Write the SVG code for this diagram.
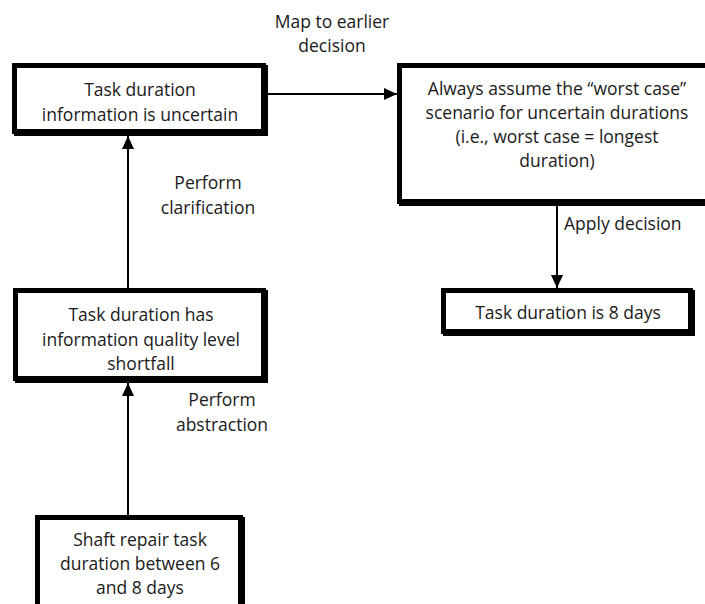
<svg xmlns="http://www.w3.org/2000/svg" width="705" height="604" viewBox="0 0 705 604">
  <style>
    .shadow { fill: #000; }
    .box { fill: #fff; stroke: #000; stroke-width: 5; }
    .txt { font-family: "Open Sans", "Liberation Sans", sans-serif; font-size: 17.5px; fill: #1a1a1a; text-anchor: middle; }
    .lbl { font-family: "Open Sans", "Liberation Sans", sans-serif; font-size: 17.5px; fill: #1a1a1a; }
    .edge { stroke: #000; stroke-width: 2; fill: none; marker-end: url(#arrow); }
  </style>
  <defs>
    <marker id="arrow" markerUnits="userSpaceOnUse" markerWidth="14" markerHeight="14" viewBox="0 0 14 14" refX="13" refY="7" orient="auto">
      <path d="M0,1 L13,7 L0,13 Z" fill="#000"/>
    </marker>
  </defs>
  <rect width="705" height="604" fill="#fff"/>

  <g id="connectors">
    <line class="edge" x1="268" y1="94" x2="397" y2="94"/>
    <line class="edge" x1="128" y1="288" x2="128" y2="136"/>
    <line class="edge" x1="128" y1="515" x2="128" y2="383"/>
    <line class="edge" x1="557" y1="206" x2="557" y2="288"/>
    <text class="lbl" x="332" y="28" text-anchor="middle">Map to earlier</text>
    <text class="lbl" x="332" y="52" text-anchor="middle">decision</text>
    <text class="lbl" x="208" y="189" text-anchor="middle">Perform</text>
    <text class="lbl" x="208" y="214" text-anchor="middle">clarification</text>
    <text class="lbl" x="222" y="406" text-anchor="middle">Perform</text>
    <text class="lbl" x="222" y="431" text-anchor="middle">abstraction</text>
    <text class="lbl" x="564" y="230">Apply decision</text>
  </g>

  <g id="node-uncertain">
    <rect class="shadow" x="14" y="65" width="254" height="71"/>
    <rect class="box" x="14.5" y="65.5" width="249" height="66"/>
    <text class="txt" x="140" y="96">Task duration</text>
    <text class="txt" x="140" y="121">information is uncertain</text>
  </g>

  <g id="node-worst-case">
    <rect class="shadow" x="399" y="65" width="325" height="141"/>
    <rect class="box" x="399.5" y="65.5" width="320" height="136"/>
    <text class="txt" x="557" y="95">Always assume the “worst case”</text>
    <text class="txt" x="557" y="119">scenario for uncertain durations</text>
    <text class="txt" x="557" y="143">(i.e., worst case = longest</text>
    <text class="txt" x="557" y="167">duration)</text>
  </g>

  <g id="node-eight-days">
    <rect class="shadow" x="443" y="290" width="252" height="46"/>
    <rect class="box" x="443.5" y="290.5" width="247" height="41"/>
    <text class="txt" x="568" y="319">Task duration is 8 days</text>
  </g>

  <g id="node-shortfall">
    <rect class="shadow" x="15" y="290" width="253" height="93"/>
    <rect class="box" x="15.5" y="290.5" width="248" height="88"/>
    <text class="txt" x="141" y="321">Task duration has</text>
    <text class="txt" x="141" y="346">information quality level</text>
    <text class="txt" x="141" y="370">shortfall</text>
  </g>

  <g id="node-shaft-repair">
    <rect class="shadow" x="37" y="517" width="208" height="110"/>
    <rect class="box" x="37.5" y="517.5" width="203" height="105"/>
    <text class="txt" x="140" y="546">Shaft repair task</text>
    <text class="txt" x="140" y="570">duration between 6</text>
    <text class="txt" x="140" y="594">and 8 days</text>
  </g>
</svg>
